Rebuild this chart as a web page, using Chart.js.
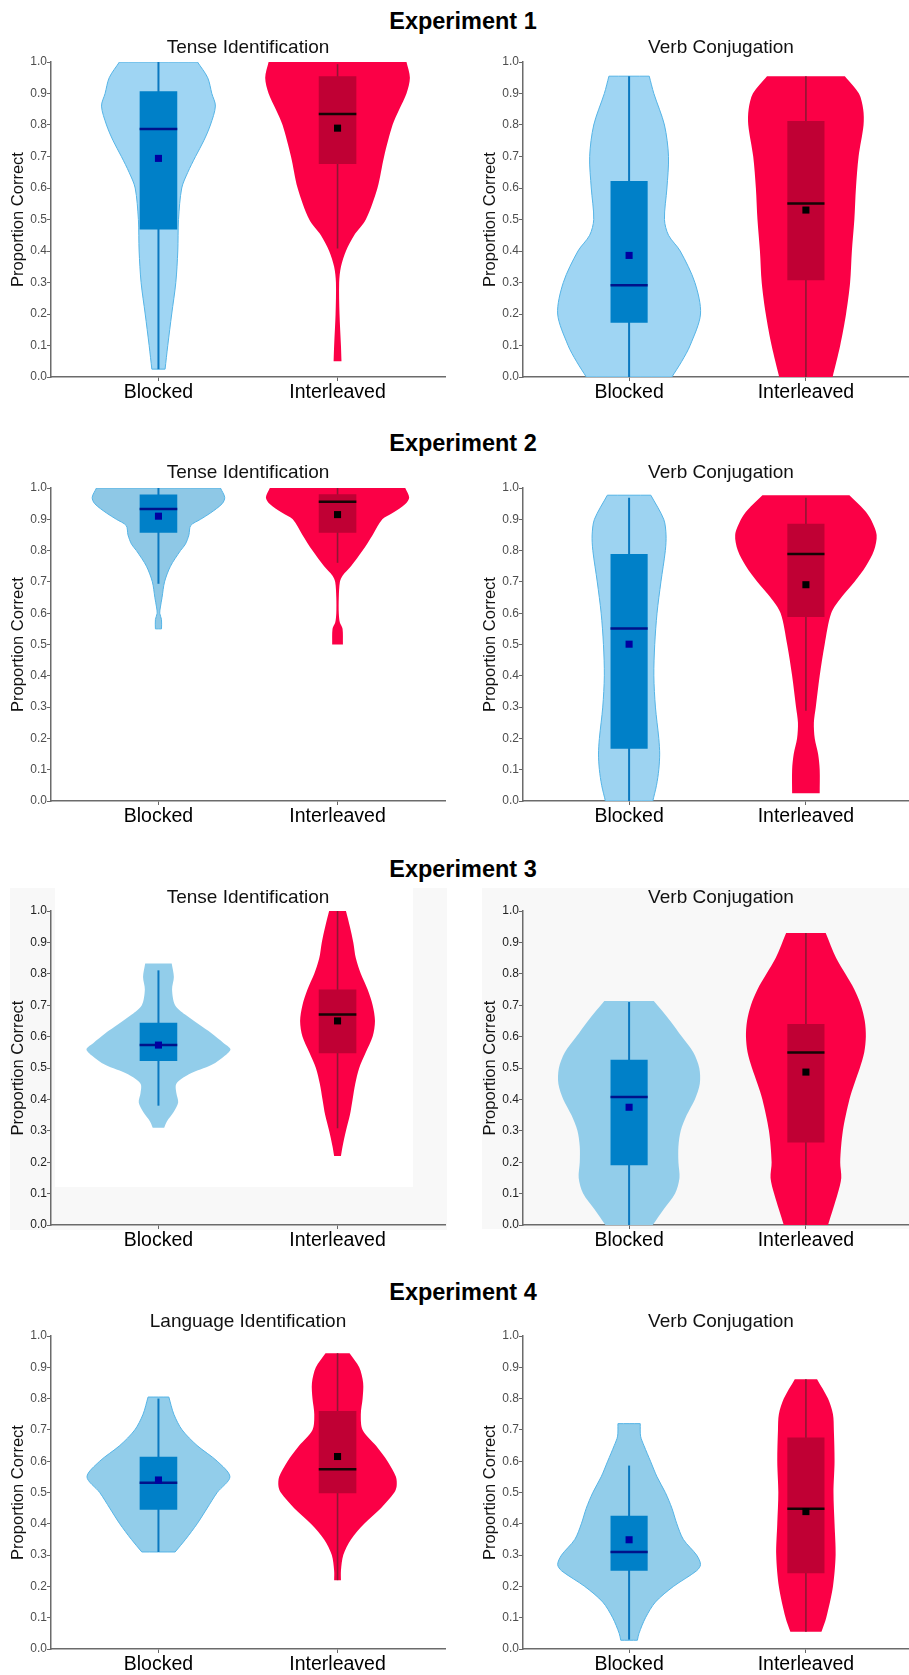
<!DOCTYPE html>
<html>
<head>
<meta charset="utf-8">
<script src="https://cdn.jsdelivr.net/npm/chart.js@4.4.1/dist/chart.umd.min.js"></script>
<style>
  html, body { margin: 0; padding: 0; background: #fff; overflow: hidden; }
  #page { position: relative; width: 909px; height: 1675px; overflow: hidden;
          font-family: 'Liberation Sans', Arial, sans-serif; }
  canvas { position: absolute; }
  .head { position: absolute; transform: translate(-50%, -50%); white-space: nowrap; color: #000; }
  .exp { font-size: 23.5px; font-weight: bold; }
  .sub { font-size: 19px; color: #111; }
  .bg { position: absolute; }
</style>
</head>
<body>
<div id="page">
  <div class="bg" style="left:10px;top:888px;width:437px;height:342px;background:#f8f8f8"></div>
  <div class="bg" style="left:55px;top:888px;width:358px;height:299px;background:#fff"></div>
  <div class="bg" style="left:482px;top:888px;width:427px;height:341px;background:#f8f8f8"></div>
</div>
<script>
// Groups and ticks
const groups = ["Blocked", "Interleaved"];
const yTicks = [0, 0.1, 0.2, 0.3, 0.4, 0.5, 0.6, 0.7, 0.8, 0.9, 1.0];
const experiments = ["Experiment 1", "Experiment 2", "Experiment 3", "Experiment 4"];
const taskNames = [
  ["Tense Identification", "Verb Conjugation"],
  ["Tense Identification", "Verb Conjugation"],
  ["Tense Identification", "Verb Conjugation"],
  ["Language Identification", "Verb Conjugation"]
];

// Violin profiles: [proportion correct, half width]
const e1TenseBlocked = [[0.025,0.037],[0.1,0.052],[0.2,0.074],[0.3,0.097],[0.4,0.108],[0.5,0.112],[0.6,0.13],[0.65,0.164],[0.7,0.207],[0.75,0.253],[0.8,0.29],[0.86,0.318],[0.9,0.298],[0.95,0.275],[1.0,0.218]];
const e1TenseInter = [[0.05,0.022],[0.1,0.019],[0.2,0.011],[0.3,0.009],[0.35,0.019],[0.4,0.047],[0.45,0.093],[0.5,0.158],[0.6,0.223],[0.7,0.26],[0.8,0.307],[0.85,0.345],[0.9,0.385],[0.95,0.404],[1.0,0.385]];
const e1VerbBlocked = [[0,0.242],[0.05,0.298],[0.1,0.345],[0.2,0.404],[0.3,0.372],[0.4,0.289],[0.45,0.223],[0.5,0.2],[0.6,0.214],[0.7,0.223],[0.8,0.2],[0.9,0.14],[0.955,0.114]];
const e1VerbInter = [[0,0.151],[0.1,0.194],[0.2,0.227],[0.3,0.25],[0.4,0.26],[0.5,0.274],[0.6,0.283],[0.7,0.298],[0.8,0.326],[0.85,0.324],[0.9,0.3],[0.955,0.22]];
const e2TenseBlocked = [[0.55,0.017],[0.58,0.017],[0.6,0.007],[0.62,0.011],[0.65,0.02],[0.7,0.034],[0.75,0.067],[0.8,0.123],[0.82,0.15],[0.85,0.17],[0.88,0.18],[0.9,0.235],[0.92,0.29],[0.95,0.356],[0.97,0.37],[1.0,0.346]];
const e2TenseInter = [[0.5,0.03],[0.55,0.028],[0.57,0.013],[0.6,0.007],[0.65,0.007],[0.7,0.013],[0.72,0.028],[0.75,0.075],[0.8,0.14],[0.85,0.196],[0.9,0.25],[0.92,0.307],[0.95,0.38],[0.97,0.4],[1.0,0.378]];
const e2VerbBlocked = [[0,0.134],[0.05,0.155],[0.1,0.168],[0.15,0.173],[0.2,0.168],[0.3,0.149],[0.4,0.14],[0.5,0.145],[0.6,0.158],[0.7,0.18],[0.8,0.205],[0.85,0.209],[0.9,0.196],[0.977,0.123]];
const e2VerbInter = [[0.025,0.078],[0.1,0.078],[0.15,0.069],[0.2,0.05],[0.25,0.045],[0.3,0.056],[0.4,0.078],[0.5,0.106],[0.6,0.143],[0.65,0.2],[0.7,0.274],[0.75,0.339],[0.8,0.385],[0.85,0.4],[0.9,0.367],[0.93,0.33],[0.977,0.246]];
const e3TenseBlocked = [[0.31,0.032],[0.33,0.047],[0.36,0.085],[0.39,0.11],[0.42,0.1],[0.45,0.1],[0.48,0.17],[0.51,0.298],[0.54,0.372],[0.56,0.402],[0.58,0.363],[0.61,0.298],[0.64,0.223],[0.67,0.149],[0.7,0.093],[0.75,0.076],[0.79,0.086],[0.833,0.074]];
const e3TenseInter = [[0.22,0.019],[0.25,0.028],[0.3,0.047],[0.35,0.069],[0.4,0.084],[0.45,0.099],[0.5,0.121],[0.55,0.158],[0.6,0.196],[0.65,0.209],[0.7,0.196],[0.75,0.168],[0.8,0.13],[0.85,0.102],[0.9,0.088],[0.95,0.069],[1.0,0.047]];
const e3VerbBlocked = [[0,0.134],[0.05,0.196],[0.1,0.26],[0.15,0.285],[0.2,0.279],[0.25,0.279],[0.3,0.292],[0.35,0.326],[0.4,0.372],[0.45,0.4],[0.5,0.397],[0.55,0.363],[0.6,0.298],[0.65,0.233],[0.713,0.14]];
const e3VerbInter = [[0,0.125],[0.05,0.153],[0.1,0.18],[0.15,0.2],[0.2,0.194],[0.3,0.209],[0.4,0.246],[0.45,0.274],[0.5,0.305],[0.55,0.33],[0.6,0.339],[0.65,0.333],[0.7,0.311],[0.75,0.274],[0.8,0.223],[0.85,0.171],[0.93,0.112]];
const e4LangBlocked = [[0.31,0.093],[0.35,0.151],[0.4,0.216],[0.45,0.272],[0.5,0.328],[0.55,0.399],[0.6,0.328],[0.65,0.216],[0.7,0.132],[0.75,0.086],[0.805,0.058]];
const e4LangInter = [[0.22,0.019],[0.25,0.019],[0.3,0.032],[0.35,0.075],[0.4,0.149],[0.45,0.242],[0.5,0.317],[0.52,0.33],[0.55,0.326],[0.6,0.279],[0.65,0.214],[0.7,0.14],[0.75,0.13],[0.8,0.14],[0.85,0.143],[0.9,0.121],[0.945,0.067]];
const e4VerbBlocked = [[0.028,0.047],[0.05,0.056],[0.1,0.093],[0.15,0.149],[0.2,0.251],[0.25,0.382],[0.27,0.404],[0.3,0.382],[0.35,0.307],[0.4,0.27],[0.45,0.242],[0.5,0.205],[0.55,0.158],[0.6,0.121],[0.65,0.084],[0.68,0.065],[0.72,0.063]];
const e4VerbInter = [[0.055,0.088],[0.1,0.115],[0.2,0.153],[0.3,0.168],[0.4,0.162],[0.5,0.156],[0.6,0.162],[0.7,0.158],[0.75,0.153],[0.8,0.125],[0.862,0.063]];

// Box stats: [min, q1, median, q3, max, mean]
const e1TenseBlockedBox = [0.025, 0.468, 0.787, 0.907, 1.0, 0.694];
const e1TenseInterBox = [0.408, 0.676, 0.835, 0.955, 0.993, 0.79];
const e1VerbBlockedBox = [0, 0.172, 0.291, 0.622, 0.955, 0.386];
const e1VerbInterBox = [0, 0.307, 0.551, 0.8125, 0.955, 0.53];
const e2TenseBlockedBox = [0.694, 0.857, 0.933, 0.979, 1.0, 0.91];
const e2TenseInterBox = [0.761, 0.857, 0.956, 0.98, 1.0, 0.915];
const e2VerbBlockedBox = [0, 0.167, 0.551, 0.789, 0.969, 0.501];
const e2VerbInterBox = [0.288, 0.588, 0.789, 0.886, 0.969, 0.691];
const e3TenseBlockedBox = [0.38, 0.522, 0.573, 0.644, 0.811, 0.573];
const e3TenseInterBox = [0.308, 0.547, 0.67, 0.75, 1.0, 0.65];
const e3VerbBlockedBox = [0, 0.19, 0.408, 0.526, 0.71, 0.375];
const e3VerbInterBox = [0, 0.263, 0.549, 0.64, 0.93, 0.487];
const e4LangBlockedBox = [0.31, 0.445, 0.531, 0.614, 0.8, 0.54];
const e4LangInterBox = [0.22, 0.498, 0.574, 0.76, 0.945, 0.615];
const e4VerbBlockedBox = [0.03, 0.25, 0.31, 0.426, 0.586, 0.349];
const e4VerbInterBox = [0.055, 0.242, 0.448, 0.676, 0.862, 0.439];

Chart.defaults.font.family = "'Liberation Sans', Arial, sans-serif";

// fills the closed outline of a dataset (violin / box)
const shapeFill = {
    id: 'shapeFill',
    beforeDatasetDraw(chart, args) {
        const ds = chart.data.datasets[args.index];
        if (!ds.shapeColor) return;
        const line = args.meta.dataset;
        if (!line) return;
        const ctx = chart.ctx;
        line.updateControlPoints(chart.chartArea, 'x');
        ctx.save();
        ctx.beginPath();
        line.path(ctx);
        ctx.closePath();
        ctx.fillStyle = ds.shapeColor;
        ctx.fill();
        ctx.restore();
    }
};

const BOX_HALF = 0.105;
const blue = { box: '#0080c8', whisker: '#0a78c0', median: '#00128a', mean: '#0000a0', edge: '#55b4e6' };
const red = { violin: '#fb0046', box: '#c00034', whisker: '#8e1634', median: '#140505', mean: '#000000' };

// outline: right side upwards, left side downwards; end points doubled so flat ends stay flat
function violinPoints(profile, c) {
    const prof = [profile[0]].concat(profile, [profile[profile.length - 1]]);
    const right = prof.map(p => ({ x: c + p[1], y: p[0] }));
    const left = prof.slice().reverse().map(p => ({ x: c - p[1], y: p[0] }));
    const pts = right.concat(left);
    pts.push(pts[0]);
    return pts;
}

function groupDatasets(profile, stats, c, col, violinColor, edge) {
    const [min, q1, med, q3, max, mean] = stats;
    const h = BOX_HALF;
    return [
        { data: violinPoints(profile, c), showLine: true, tension: 0.3, pointRadius: 0,
          borderWidth: edge ? 1 : 0, borderColor: edge || violinColor, shapeColor: violinColor, order: 5 },
        { data: [{ x: c, y: min }, { x: c, y: max }], showLine: true, pointRadius: 0,
          borderWidth: col === blue ? 2 : 1.6, borderColor: col.whisker, order: 4 },
        { data: [{ x: c - h, y: q1 }, { x: c + h, y: q1 }, { x: c + h, y: q3 }, { x: c - h, y: q3 }, { x: c - h, y: q1 }],
          showLine: true, pointRadius: 0, borderWidth: 0, borderColor: col.box, shapeColor: col.box, order: 3 },
        { data: [{ x: c - h, y: med }, { x: c + h, y: med }], showLine: true, pointRadius: 0,
          borderWidth: 2.5, borderColor: col.median, order: 2 },
        { data: [{ x: c, y: mean }], showLine: false, pointStyle: 'rect', pointRadius: 5,
          pointBackgroundColor: col.mean, pointBorderWidth: 0, order: 1 }
    ];
}

function makePanel(p) {
    const page = document.getElementById('page');
    const canvas = document.createElement('canvas');
    const plotH = p.plotH;
    canvas.width = p.width;
    canvas.height = plotH + 10 + 42;
    canvas.style.left = p.left + 'px';
    canvas.style.top = (p.top - 10) + 'px';
    page.appendChild(canvas);

    const sub = document.createElement('div');
    sub.className = 'head sub';
    sub.textContent = p.title;
    sub.style.left = p.titleX + 'px';
    sub.style.top = p.titleY + 'px';
    page.appendChild(sub);

    const datasets = groupDatasets(p.blocked, p.blockedBox, 1, blue, p.blueFill, p.edge)
        .concat(groupDatasets(p.inter, p.interBox, 2, red, red.violin, null));

    new Chart(canvas, {
        type: 'scatter',
        data: { datasets },
        plugins: [shapeFill],
        options: {
            responsive: false,
            animation: false,
            layout: { padding: { top: 10, right: p.padRight, left: 0, bottom: 0 } },
            plugins: { legend: { display: false }, tooltip: { enabled: false } },
            scales: {
                x: {
                    type: 'linear', min: 0.4, max: 2.6,
                    afterFit: s => { s.height = 42; },
                    afterBuildTicks: s => { s.ticks = [{ value: 1 }, { value: 2 }]; },
                    ticks: {
                        callback: v => groups[Math.round(v) - 1],
                        font: { size: 19.5 }, color: '#000', padding: 0, maxRotation: 0
                    },
                    grid: { display: true, drawOnChartArea: false, drawTicks: true, tickLength: 4, color: '#666' },
                    border: { display: true, color: '#6b6b6b', width: 1.5 }
                },
                y: {
                    min: 0, max: 1,
                    afterFit: s => { s.width = p.axisW; },
                    afterBuildTicks: s => { s.ticks = yTicks.map(v => ({ value: v })); },
                    ticks: {
                        callback: v => v.toFixed(1),
                        font: { size: 12 }, color: p.tickColor, padding: 0
                    },
                    grid: { display: true, drawOnChartArea: false, drawTicks: true, tickLength: 4, color: '#666' },
                    border: { display: true, color: '#6b6b6b', width: 1.5 },
                    title: {
                        display: true, text: 'Proportion Correct', color: '#111',
                        font: { size: 16.5 }, padding: { top: p.axisW - 42, bottom: 0 }
                    }
                }
            }
        }
    });
}

// layout per row
const rowTop = [62, 488, 911, 1336];
const rowPlotH = [315, 313, 314, 313];
const headY = [21, 443, 869, 1292];
const subY = [47, 472, 897, 1321];
const blueFills = [['#9fd5f3', '#9fd5f3'], ['#8ec8e6', '#9dd3f1'], ['#92cdea', '#92cdea'], ['#92cdea', '#92cdea']];
const panelData = [
    [[e1TenseBlocked, e1TenseBlockedBox, e1TenseInter, e1TenseInterBox], [e1VerbBlocked, e1VerbBlockedBox, e1VerbInter, e1VerbInterBox]],
    [[e2TenseBlocked, e2TenseBlockedBox, e2TenseInter, e2TenseInterBox], [e2VerbBlocked, e2VerbBlockedBox, e2VerbInter, e2VerbInterBox]],
    [[e3TenseBlocked, e3TenseBlockedBox, e3TenseInter, e3TenseInterBox], [e3VerbBlocked, e3VerbBlockedBox, e3VerbInter, e3VerbInterBox]],
    [[e4LangBlocked, e4LangBlockedBox, e4LangInter, e4LangInterBox], [e4VerbBlocked, e4VerbBlockedBox, e4VerbInter, e4VerbInterBox]]
];

experiments.forEach((name, r) => {
    const h = document.createElement('div');
    h.className = 'head exp';
    h.textContent = name;
    h.style.left = '463px';
    h.style.top = headY[r] + 'px';
    document.getElementById('page').appendChild(h);

    [0, 1].forEach(side => {
        const d = panelData[r][side];
        makePanel({
            left: side === 0 ? 0 : 450,
            width: side === 0 ? 450 : 467,
            padRight: side === 0 ? 5 : 0,
            axisW: side === 0 ? 51 : 73,
            top: rowTop[r],
            plotH: rowPlotH[r],
            title: taskNames[r][side],
            titleX: side === 0 ? 248 : 721,
            titleY: subY[r],
            blocked: d[0], blockedBox: d[1], inter: d[2], interBox: d[3],
            blueFill: blueFills[r][side],
            edge: r === 2 ? null : blue.edge,
            tickColor: r === 2 ? '#222' : '#4d4d4d'
        });
    });
});
</script>
</body>
</html>
